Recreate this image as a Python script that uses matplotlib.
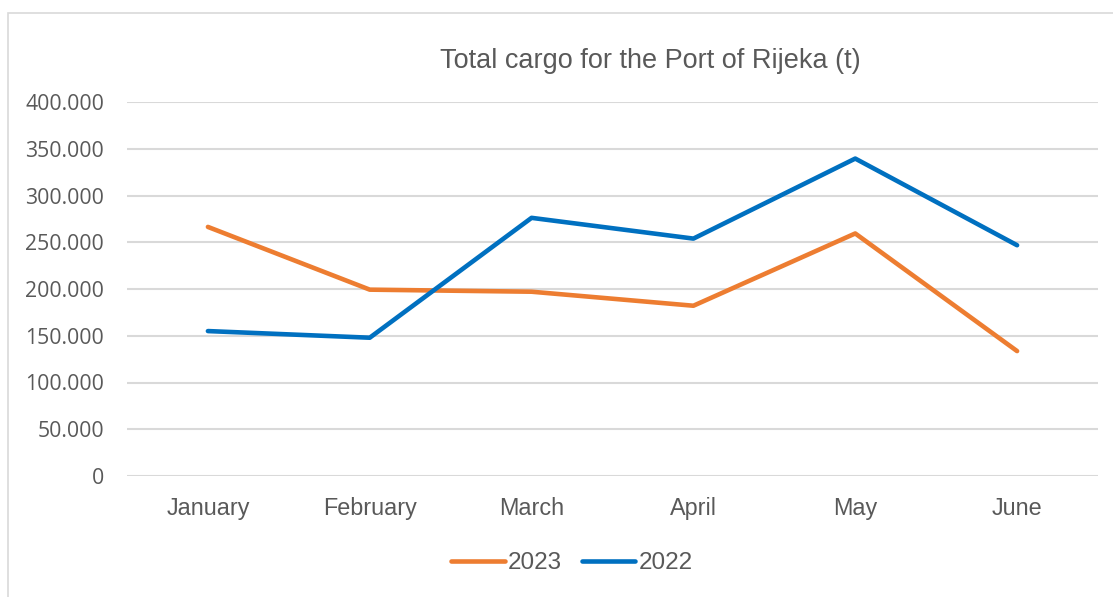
import matplotlib
matplotlib.use("Agg")
import matplotlib.pyplot as plt
from matplotlib.patches import Rectangle
from matplotlib.ticker import FuncFormatter

# Data (tonnes)
months = ["January", "February", "March", "April", "May", "June"]
cargo_2023 = [266400, 199300, 197100, 182100, 259400, 133600]
cargo_2022 = [155000, 147900, 276100, 253900, 339500, 246800]
y_ticks = [0, 50000, 100000, 150000, 200000, 250000, 300000, 350000, 400000]

# original uses Arial Narrow; Liberation Sans a bit smaller gets close to its widths
label_font = ["Liberation Sans", "DejaVu Sans"]
text_col = "#595959"

fig = plt.figure(figsize=(11.13, 5.97), dpi=100)
W, H = 1113, 597

# chart border (only left/top visible in the crop)
fig.patches.append(Rectangle((8 / W, -0.1), 1.2, 1 - 13 / H + 0.1,
                             transform=fig.transFigure, fill=False,
                             edgecolor="#d9d9d9", linewidth=1.2))

ax = fig.add_axes([127 / W, 1 - 476 / H, (1098 - 127) / W, (476 - 102) / H])

x = range(len(months))
ax.plot(x, cargo_2023, color="#ED7D31", linewidth=3.3, label="2023",
        solid_capstyle="round", solid_joinstyle="round")
ax.plot(x, cargo_2022, color="#0070C0", linewidth=3.3, label="2022",
        solid_capstyle="round", solid_joinstyle="round")

ax.set_xlim(-0.5, len(months) - 0.5)
ax.set_ylim(0, 400000)
ax.set_yticks(y_ticks)
ax.yaxis.set_major_formatter(FuncFormatter(lambda v, p: f"{int(v):,}".replace(",", ".")))
ax.set_xticks(list(x))
ax.set_xticklabels(months, family=label_font, fontsize=16.8, color=text_col)
for lab in ax.get_yticklabels():
    lab.set_family(["Open Sans", "DejaVu Sans"])
    lab.set_fontsize(15.3)
    lab.set_color(text_col)

ax.grid(axis="y", color="#d9d9d9", linewidth=1.5)
ax.set_axisbelow(True)
for s in ax.spines.values():
    s.set_visible(False)
ax.tick_params(axis="both", length=0)
ax.tick_params(axis="x", pad=15)
ax.tick_params(axis="y", pad=16.5)

fig.text(650 / W, 1 - 61 / H, "Total cargo for the Port of Rijeka (t)",
         ha="center", va="center", family=label_font, fontsize=19.5, color=text_col)

leg = fig.legend(loc="center", bbox_to_anchor=(572 / W, 1 - 563 / H), ncol=2,
                 frameon=False, handlelength=2.2, handletextpad=0.15,
                 columnspacing=0.8, prop={"family": label_font, "size": 17.5})
for t in leg.get_texts():
    t.set_color(text_col)

fig.savefig("out.png", dpi=100, facecolor="white")
